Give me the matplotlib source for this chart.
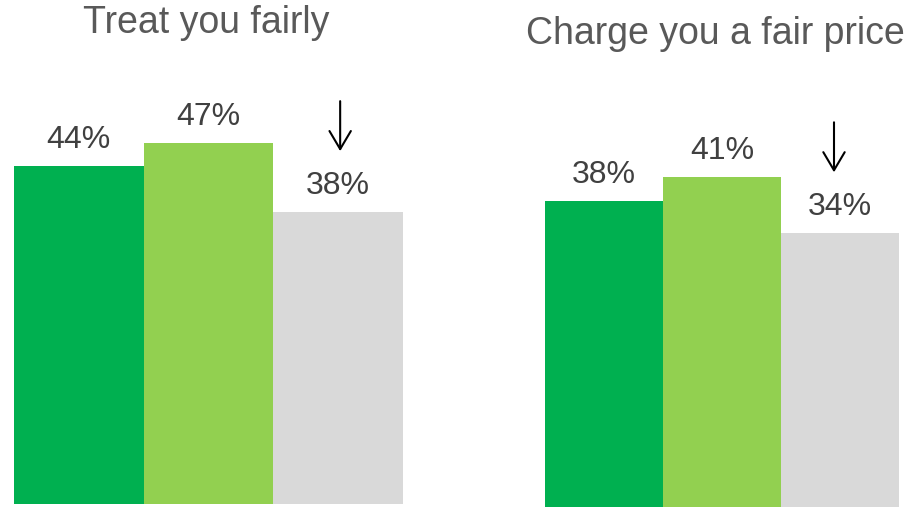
import matplotlib
matplotlib.use("Agg")
from matplotlib import pyplot as plt
from matplotlib import transforms as mtrans
from matplotlib.patches import FancyArrowPatch

plt.rcParams["font.family"] = ["Liberation Sans", "DejaVu Sans"]

W, H = 909, 507

titles = ["Treat you fairly", "Charge you a fair price"]
values = [[44, 47, 38], [38, 41, 34]]
colors = ["#00B050", "#92D050", "#D9D9D9"]

# panel layout in pixels: left, right, bottom (from top), px per percent,
# title x / baseline, arrow x shift
panels = [
    dict(x0=14, x1=403, bottom=504, scale=7.68, tx=206, ty=33, adx=2),
    dict(x0=545, x1=899, bottom=507, scale=8.05, tx=715, ty=44, adx=-6),
]

PT = 0.72  # points per pixel at dpi 100

fig = plt.figure(figsize=(W / 100, H / 100), dpi=100)
to_fig = fig.transFigure.inverted()

for title, vals, p in zip(titles, values, panels):
    ax = fig.add_axes([p["x0"] / W, (H - p["bottom"]) / H,
                       (p["x1"] - p["x0"]) / W, p["bottom"] / H])
    ax.set_xlim(-0.5, 2.5)
    ax.set_ylim(0, p["bottom"] / p["scale"])
    ax.axis("off")

    x = list(range(len(vals)))
    ax.bar(x, vals, width=1.0, color=colors, linewidth=0)
    for i, v in zip(x, vals):
        ax.annotate(f"{v}%", xy=(i, v), xytext=(0, 18 * PT), textcoords="offset points",
                    ha="center", va="baseline", fontsize=23, color="#404040")

    # down arrow above the last bar
    last = x[-1]
    top_t = mtrans.offset_copy(ax.transData, fig=fig, x=p["adx"] * PT, y=111 * PT, units="points")
    bot_t = mtrans.offset_copy(ax.transData, fig=fig, x=p["adx"] * PT, y=61 * PT, units="points")
    top = to_fig.transform(top_t.transform((last, vals[last])))
    bot = to_fig.transform(bot_t.transform((last, vals[last])))
    fig.add_artist(FancyArrowPatch(top, bot, transform=fig.transFigure,
                                   arrowstyle="->,head_length=0.93,head_width=0.55",
                                   mutation_scale=14, lw=1.5, color="black",
                                   shrinkA=0, shrinkB=0))

    fig.text(p["tx"] / W, (H - p["ty"]) / H, title, ha="center", va="baseline",
             fontsize=27, color="#595959")

fig.savefig("out.png", dpi=100)
